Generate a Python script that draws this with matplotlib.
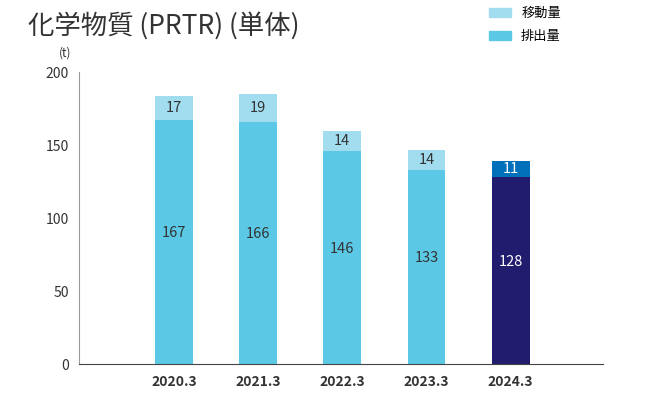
import matplotlib.pyplot as plt
from matplotlib.patches import Patch

plt.rcParams['font.family'] = ['Noto Sans CJK JP', 'DejaVu Sans']

years = ['2020.3', '2021.3', '2022.3', '2023.3', '2024.3']
emission = [167, 166, 146, 133, 128]
transfer = [17, 19, 14, 14, 11]

emit_colors = ['#5bc9e6'] * 4 + ['#211c6e']
trans_colors = ['#a2dcef'] * 4 + ['#0070bb']
text_colors = ['#333333'] * 4 + ['white']

fig = plt.figure(figsize=(6.68, 4.01), dpi=100)
ax = fig.add_axes([0.118, 0.092, 0.785, 0.728])

x = list(range(len(years)))
ax.bar(x, emission, width=0.45, color=emit_colors)
ax.bar(x, transfer, width=0.45, bottom=emission, color=trans_colors)

for i in x:
    ax.text(i, emission[i] * 0.5 + 6, str(emission[i]), ha='center', va='center',
            fontsize=10.5, color=text_colors[i])
    ax.text(i, emission[i] + transfer[i] / 2, str(transfer[i]), ha='center', va='center',
            fontsize=10.5, color=text_colors[i])

ax.set_xlim(-1.13, 5.1)
ax.set_ylim(0, 200)
ax.set_yticks([0, 50, 100, 150, 200])
ax.set_xticks(x)
ax.set_xticklabels(years, fontweight='bold', fontsize=10, color='#333333')
ax.tick_params(axis='y', length=0, labelsize=10, labelcolor='#333333', pad=7)
ax.tick_params(axis='x', length=0, pad=8)
ax.spines['top'].set_visible(False)
ax.spines['right'].set_visible(False)
ax.spines['left'].set_color('#999999')
ax.spines['bottom'].set_color('#444444')

fig.text(0.097, 0.858, '(t)', fontsize=8.5, color='#333333', ha='center')
fig.text(0.042, 0.935, '化学物質 (PRTR) (単体)', fontsize=19, color='#333333', va='center')

handles = [Patch(color='#a2dcef', label='移動量'), Patch(color='#5bc9e6', label='排出量')]
fig.legend(handles=handles, loc='upper left', bbox_to_anchor=(0.715, 1.012), frameon=False,
           fontsize=9.5, handlelength=1.6, handleheight=0.7, labelspacing=0.75)

fig.savefig('out.png', dpi=100)
